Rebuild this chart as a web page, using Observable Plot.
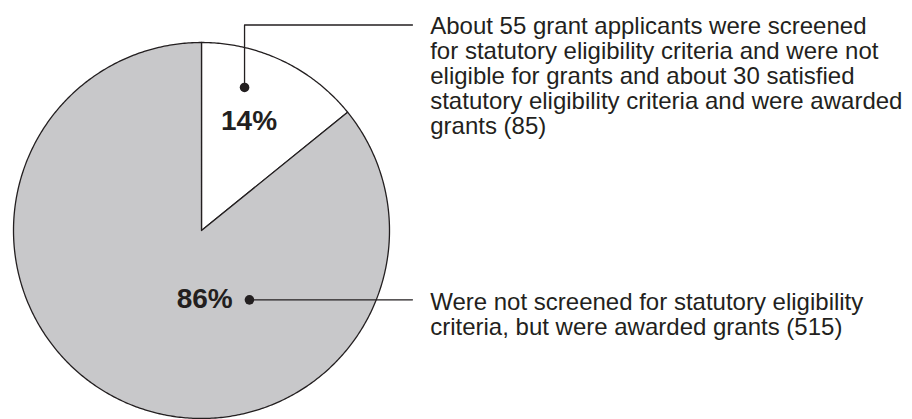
<!DOCTYPE html>
<html>
<head>
<meta charset="utf-8">
<script src="https://cdn.jsdelivr.net/npm/d3@7"></script>
<script src="https://cdn.jsdelivr.net/npm/@observablehq/plot@0.6"></script>
<style>
  html, body { margin: 0; padding: 0; background: #fff; }
  svg { display: block; }
</style>
</head>
<body>
<div id="chart"></div>
<script>
// ---- Data ----
const categories = ["Screened", "Not screened"];
const counts = [85, 515];
const percentLabels = ["14%", "86%"];
const descriptions = [
  "About 55 grant applicants were screened\nfor statutory eligibility criteria and were not\neligible for grants and about 30 satisfied\nstatutory eligibility criteria and were awarded\ngrants (85)",
  "Were not screened for statutory eligibility\ncriteria, but were awarded grants (515)"
];

// ---- Styles / layout (in pie-radius units) ----
const sliceFills = ["#ffffff", "#c8c8ca"];
const ink = "#231f20";
const font = "'Liberation Sans', Arial, Helvetica, sans-serif";
const pctPos = [[0.253, 0.536], [0.017, -0.413]];        // label centre x, baseline y
const dotPos = [[0.229, 0.761], [0.255, -0.369]];
const calloutPaths = [
  [[0.229, 0.761], [0.229, 1.093], [1.122, 1.093]],
  [[0.255, -0.369], [1.122, -0.369]]
];
const descPos = [[1.2165, 1.142], [1.2165, -0.326]];     // text left, cap-top

// ---- Build slice polygons from the data ----
const total = d3.sum(counts);
let acc = 0;
const slices = counts.map((c, i) => {
  const a0 = acc / total * 2 * Math.PI;
  acc += c;
  const a1 = acc / total * 2 * Math.PI;
  const n = Math.max(2, Math.ceil((a1 - a0) / 0.01));
  const pts = [{x: 0, y: 0, k: categories[i]}];
  for (let j = 0; j <= n; j++) {
    const a = a0 + (a1 - a0) * j / n;
    pts.push({x: Math.sin(a), y: Math.cos(a), k: categories[i]});
  }
  return pts;
});

const sliceMarks = slices.map((pts, i) =>
  Plot.line(pts, {x: "x", y: "y", curve: "linear-closed", fill: sliceFills[i], stroke: ink, strokeWidth: 1.3})
);

const calloutMarks = calloutPaths.map(p =>
  Plot.line(p, {x: d => d[0], y: d => d[1], stroke: ink, strokeWidth: 1.3})
);

const plot = Plot.plot({
  width: 912,
  height: 419,
  margin: 0,
  x: {domain: [-1, 1], range: [13, 389], axis: null},
  y: {domain: [-1, 1], range: [418, 42], axis: null},
  style: {fontFamily: font, background: "#fff"},
  marks: [
    ...sliceMarks,
    ...calloutMarks,
    Plot.dot(dotPos, {x: d => d[0], y: d => d[1], r: 4.8, fill: ink, stroke: "none"}),
    Plot.text(percentLabels, {
      x: (d, i) => pctPos[i][0], y: (d, i) => pctPos[i][1], text: d => d,
      fontSize: 28, fontWeight: "bold", fill: ink, textAnchor: "middle", lineAnchor: "bottom", fontFamily: font
    }),
    Plot.text(descriptions, {
      x: (d, i) => descPos[i][0], y: (d, i) => descPos[i][1], text: d => d,
      fontSize: 24, fill: ink, textAnchor: "start", lineAnchor: "top", lineHeight: 25 / 24, fontFamily: font
    })
  ]
});
document.getElementById("chart").appendChild(plot);
</script>
</body>
</html>
